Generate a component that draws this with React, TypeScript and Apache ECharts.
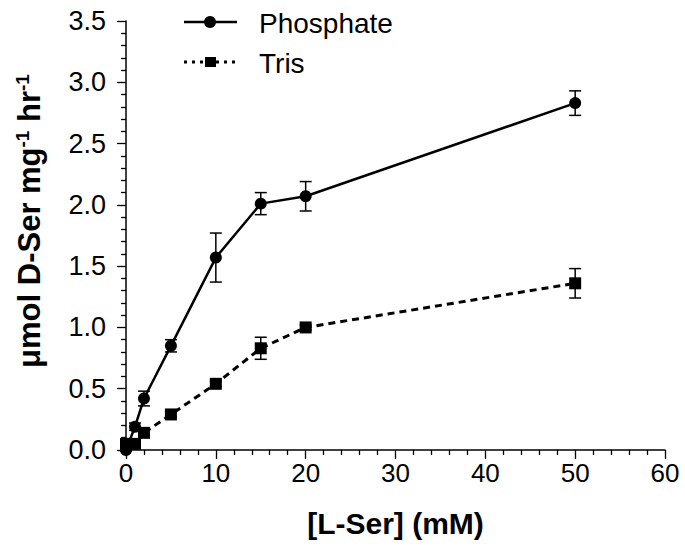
import React, { useEffect, useRef } from "react";
import * as echarts from "echarts";

const concX = [0, 1, 2, 5, 10, 15, 20, 50];
const phosphate = [0.0, 0.19, 0.42, 0.85, 1.57, 2.01, 2.07, 2.83];
const phosphateErr = [0.01, 0.03, 0.06, 0.05, 0.2, 0.09, 0.12, 0.1];
const tris = [0.05, 0.05, 0.14, 0.29, 0.54, 0.83, 1.0, 1.36];
const trisErr = [0.01, 0.01, 0.02, 0.02, 0.02, 0.09, 0.02, 0.12];
const xTicks = [0, 10, 20, 30, 40, 50, 60];
const yTicks = [0, 0.5, 1.0, 1.5, 2.0, 2.5, 3.0, 3.5];

const FONT = "'Liberation Sans', Arial, sans-serif";

function errData(ys: number[], es: number[]) {
  return concX.map((x, i) => [x, ys[i], es[i]]);
}

function errRender(params: any, api: any) {
  const x = api.value(0);
  const y = api.value(1);
  const e = api.value(2);
  const top = api.coord([x, y + e]);
  const bot = api.coord([x, y - e]);
  const hw = 6;
  const style = { stroke: "#000", lineWidth: 1.5 };
  return {
    type: "group",
    children: [
      { type: "line", shape: { x1: top[0], y1: top[1], x2: bot[0], y2: bot[1] }, style },
      { type: "line", shape: { x1: top[0] - hw, y1: top[1], x2: top[0] + hw, y2: top[1] }, style },
      { type: "line", shape: { x1: bot[0] - hw, y1: bot[1], x2: bot[0] + hw, y2: bot[1] }, style },
    ],
  };
}

export default function App() {
  const ref = useRef<HTMLDivElement>(null);
  useEffect(() => {
    if (!ref.current) return;
    const chart = echarts.init(ref.current, null, { renderer: "svg" });
    chart.setOption({
      animation: false,
      backgroundColor: "#fff",
      grid: { left: 126, right: 20, top: 21, bottom: 101 },
      xAxis: {
        type: "value",
        min: xTicks[0],
        max: xTicks[xTicks.length - 1],
        interval: 10,
        name: "[L-Ser] (mM)",
        nameLocation: "middle",
        nameGap: 58,
        nameTextStyle: { fontFamily: FONT, fontSize: 30, fontWeight: "bold", color: "#000" },
        axisLine: { lineStyle: { color: "#000", width: 1.5 } },
        axisTick: { inside: false, length: 9, lineStyle: { color: "#000", width: 1.3 } },
        minorTick: { show: true, splitNumber: 5, length: 5, lineStyle: { color: "#000", width: 1.3 } },
        axisLabel: { fontFamily: FONT, fontSize: 26, color: "#000", margin: 10 },
        splitLine: { show: false },
      },
      yAxis: {
        type: "value",
        min: yTicks[0],
        max: yTicks[yTicks.length - 1],
        interval: 0.5,
        axisLine: { show: true, lineStyle: { color: "#000", width: 1.5 } },
        axisTick: { show: true, inside: false, length: 9, lineStyle: { color: "#000", width: 1.3 } },
        minorTick: { show: true, splitNumber: 5, length: 5, lineStyle: { color: "#000", width: 1.3 } },
        axisLabel: {
          fontFamily: FONT,
          fontSize: 27,
          color: "#000",
          margin: 20,
          formatter: (v: number) => v.toFixed(1),
        },
        splitLine: { show: false },
      },
      graphic: [
        {
          type: "text",
          x: 29,
          y: 221,
          rotation: Math.PI / 2,
          style: {
            text: "{a|μmol D-Ser mg}{s|-1}{a| hr}{s|-1}",
            align: "center",
            verticalAlign: "middle",
            rich: {
              a: { fontFamily: FONT, fontSize: 31, fontWeight: "bold", fill: "#000" },
              s: { fontFamily: FONT, fontSize: 19, fontWeight: "bold", fill: "#000", verticalAlign: "top", padding: [0, 0, 14, 0] },
            },
          },
        },
        // legend: Phosphate
        { type: "line", shape: { x1: 184, y1: 22, x2: 237, y2: 22 }, style: { stroke: "#000", lineWidth: 2.5 } },
        { type: "circle", shape: { cx: 210, cy: 22, r: 6 }, style: { fill: "#000" } },
        {
          type: "text",
          x: 259,
          y: 23,
          style: { text: "Phosphate", fontFamily: FONT, fontSize: 28, fill: "#000", verticalAlign: "middle" },
        },
        // legend: Tris
        { type: "line", shape: { x1: 184, y1: 62, x2: 237, y2: 62 }, style: { stroke: "#000", lineWidth: 3, lineDash: [3, 5] } },
        { type: "rect", shape: { x: 205, y: 57, width: 11, height: 10 }, style: { fill: "#000" } },
        {
          type: "text",
          x: 259,
          y: 63,
          style: { text: "Tris", fontFamily: FONT, fontSize: 28, fill: "#000", verticalAlign: "middle" },
        },
      ],
      series: [
        {
          name: "Tris",
          type: "line",
          data: concX.map((x, i) => [x, tris[i]]),
          symbol: "rect",
          symbolSize: 12,
          itemStyle: { color: "#000" },
          lineStyle: { color: "#000", width: 3, type: [7, 5] },
          z: 3,
        },
        {
          name: "Phosphate",
          type: "line",
          data: concX.map((x, i) => [x, phosphate[i]]),
          symbol: "circle",
          symbolSize: 12,
          itemStyle: { color: "#000" },
          lineStyle: { color: "#000", width: 2.5 },
          z: 3,
        },
        {
          type: "custom",
          data: errData(phosphate, phosphateErr),
          renderItem: errRender,
          z: 2,
        },
        {
          type: "custom",
          data: errData(tris, trisErr),
          renderItem: errRender,
          z: 2,
        },
      ],
    });
    return () => chart.dispose();
  }, []);
  return <div ref={ref} style={{ width: 685, height: 551, position: "absolute", left: 0, top: 0 }} />;
}
